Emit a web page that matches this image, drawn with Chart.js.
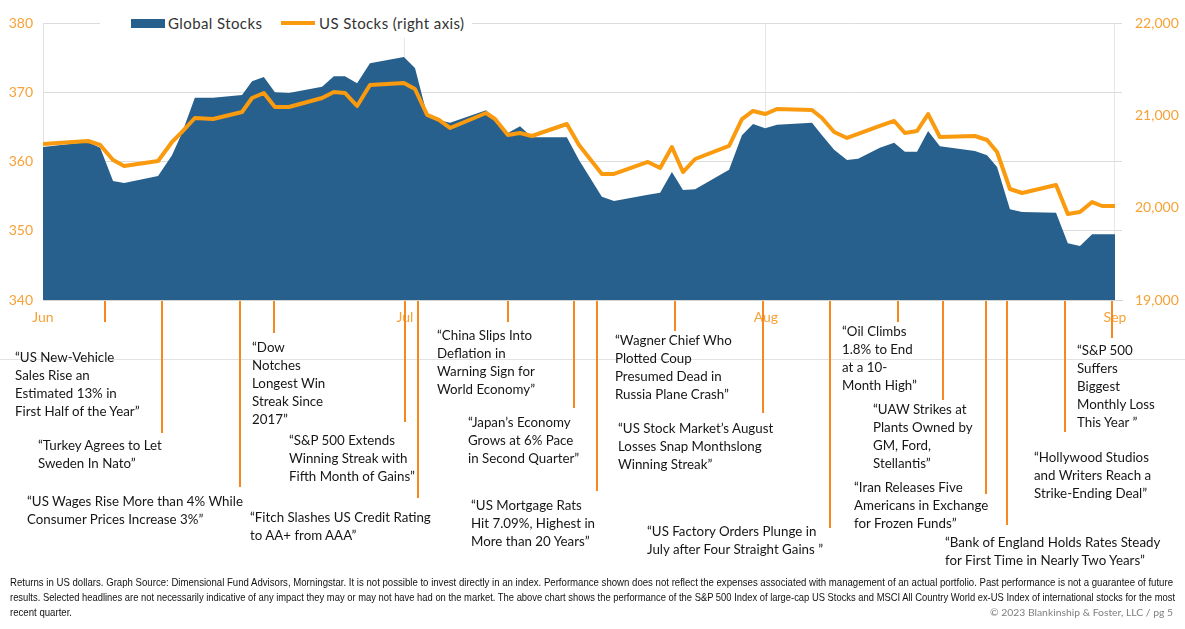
<!DOCTYPE html>
<html><head><meta charset="utf-8">
<script src="https://cdn.jsdelivr.net/npm/chart.js@4.4.0/dist/chart.umd.min.js"></script>
<style>
html,body{margin:0;padding:0;background:#fff;}
#page{position:relative;width:1185px;height:629px;overflow:hidden;background:#fff;}
#c{position:absolute;left:0;top:0;}
.rule{position:absolute;left:0;top:359px;width:1185px;height:1px;background:#e2e2e2;}
.hl{position:absolute;font-family:Lato,'Open Sans',sans-serif;font-size:14px;line-height:18px;color:#161616;white-space:nowrap;}
#legend{position:absolute;left:100px;top:8px;width:372px;height:30px;background:#fff;font-family:Lato,'Open Sans',sans-serif;font-size:15px;color:#333;}
#legend .sw1{position:absolute;left:31px;top:11px;width:34px;height:9px;background:#27608C;}
#legend .sw2{position:absolute;left:181px;top:13px;width:34px;height:4px;background:#FA9A0E;}
#legend .t{position:absolute;top:5px;line-height:20px;white-space:nowrap;letter-spacing:0.4px;}
.fn{position:absolute;left:10px;font-family:'Liberation Sans Narrow','Liberation Sans',Arial,sans-serif;font-size:10.5px;line-height:14px;color:#111;white-space:nowrap;transform-origin:0 50%;}
#copy{position:absolute;right:12px;top:604px;font-family:Lato,'Open Sans',sans-serif;font-size:12px;line-height:16px;color:#7f7f7f;white-space:nowrap;}
</style></head>
<body>
<div id="page">
  <div class="rule"></div>
  <canvas id="c" width="1185" height="629"></canvas>
  <div id="legend">
    <div class="sw1"></div><div class="t" style="left:68px">Global Stocks</div>
    <div class="sw2"></div><div class="t" style="left:219px">US Stocks (right axis)</div>
  </div>
  <div id="heads"></div>
  <div class="fn" id="fn1" style="top:575px">Returns in US dollars. Graph Source: Dimensional Fund Advisors, Morningstar. It is not possible to invest directly in an index. Performance shown does not reflect the expenses associated with management of an actual portfolio. Past performance is not a guarantee of future</div>
  <div class="fn" id="fn2" style="top:590px">results. Selected headlines are not necessarily indicative of any impact they may or may not have had on the market. The above chart shows the performance of the S&amp;P 500 Index of large-cap US Stocks and MSCI All Country World ex-US Index of international stocks for the most</div>
  <div class="fn" id="fn3" style="top:605px">recent quarter.</div>
  <div id="copy">© 2023 Blankinship &amp; Foster, LLC / pg 5</div>
</div>
<script>
// ---------- DATA ----------
const months = ['Jun', 'Jul', 'Aug', 'Sep'];
const monthTicks = [0, 1.013, 2.023, 3];          // month positions (months since Jun 1)
const dates = [0.000,0.126,0.160,0.196,0.227,0.322,0.361,0.389,0.425,0.476,0.557,0.585,0.618,0.649,0.688,0.781,0.814,0.845,0.879,0.915,
  1.010,1.041,1.075,1.108,1.139,1.240,1.265,1.301,1.335,1.368,1.466,1.500,1.564,1.598,1.693,1.727,1.760,1.791,1.825,1.920,1.956,1.987,
  2.021,2.054,2.152,2.180,2.214,2.250,2.281,2.342,2.382,2.412,2.446,2.477,2.510,2.608,2.642,2.670,2.706,2.740,2.835,2.868,2.902,2.936,2.964,3.000];
const globalStocks = [362.1,362.8,362.0,357.2,356.9,357.9,360.9,364.1,369.2,369.2,369.6,371.6,372.2,370.0,369.9,370.8,372.3,372.3,371.3,374.2,
  375.1,373.5,366.7,366.0,365.6,367.4,366.0,364.1,365.1,363.5,363.5,360.2,354.9,354.3,355.2,355.5,358.5,355.9,356.0,358.8,363.8,365.4,
  364.8,365.3,365.6,363.8,361.7,360.2,360.4,362.0,362.7,361.4,361.4,364.4,362.2,361.5,360.9,359.2,353.1,352.7,352.6,348.2,347.8,349.5,349.5,349.5];
const usStocks = [20690,20722,20679,20516,20451,20505,20711,20820,20971,20960,21036,21188,21242,21090,21090,21188,21253,21242,21101,21329,
  21350,21285,21004,20950,20863,21025,20960,20787,20809,20776,20906,20679,20365,20365,20495,20430,20657,20386,20527,20668,20960,21047,
  21014,21069,21058,20971,20820,20755,20798,20885,20939,20809,20830,21014,20765,20776,20733,20603,20202,20159,20246,19931,19953,20061,20018,20018];
const eventDates = [0.174,0.333,0.551,0.646,1.013,1.049,1.301,1.486,1.550,1.769,2.015,2.202,2.393,2.519,2.639,2.698,2.860,2.992];
const headlines = [
  ['“US New-Vehicle','Sales Rise an','Estimated 13% in','First Half of the Year”'],
  ['“Turkey Agrees to Let','Sweden In Nato”'],
  ['“US Wages Rise More than 4% While','Consumer Prices Increase 3%”'],
  ['“Dow','Notches','Longest Win','Streak Since','2017”'],
  ['“S&P 500 Extends','Winning Streak with','Fifth Month of Gains”'],
  ['“Fitch Slashes US Credit Rating','to AA+ from AAA”'],
  ['“China Slips Into','Deflation in','Warning Sign for','World Economy”'],
  ['“Japan’s Economy','Grows at 6% Pace','in Second Quarter”'],
  ['“US Mortgage Rats','Hit 7.09%, Highest in','More than 20 Years”'],
  ['“Wagner Chief Who','Plotted Coup','Presumed Dead in','Russia Plane Crash”'],
  ['“US Stock Market’s August','Losses Snap Monthslong','Winning Streak”'],
  ['“US Factory Orders Plunge in','July after Four Straight Gains ”'],
  ['“Oil Climbs','1.8% to End','at a 10-','Month High”'],
  ['“UAW Strikes at','Plants Owned by','GM, Ford,','Stellantis”'],
  ['“Iran Releases Five','Americans in Exchange','for Frozen Funds”'],
  ['“Bank of England Holds Rates Steady','for First Time in Nearly Two Years”'],
  ['“Hollywood Studios','and Writers Reach a','Strike-Ending Deal”'],
  ['“S&P 500','Suffers','Biggest','Monthly Loss','This Year ”']
];

// ---------- LAYOUT (pixels) ----------
const headLayout = [ // [text left, first line centre y, connector end y]
  [15,357,322],[38,445,433],[27,501,487],[252,347,333],[289,440,422],[250,517,498],
  [437,335,322],[468,422,408],[471,505,491],[615,340,331],[618,428,413],[647,531,528],
  [842,331,322],[873,409,400],[854,487,494],[945,542,525],[1034,457,432],[1077,350,338]
];

// headline font sized so that a known line matches the reference width
const probe = document.createElement('span');
probe.className = 'hl'; probe.style.position='absolute'; probe.style.visibility='hidden';
probe.textContent = headlines[2][0];
document.body.appendChild(probe);
const hlSize = 14 * 216 / probe.getBoundingClientRect().width;
probe.remove();

const heads = document.getElementById('heads');
headlines.forEach((lines, i) => {
  const d = document.createElement('div');
  d.className = 'hl';
  d.style.fontSize = hlSize.toFixed(2) + 'px';
  d.style.left = headLayout[i][0] + 'px';
  d.style.top = (headLayout[i][1] - 9) + 'px';
  lines.forEach((t, j) => { if (j) d.appendChild(document.createElement('br')); d.appendChild(document.createTextNode(t)); });
  heads.appendChild(d);
});

// footnote lines stretched to reference width
[['fn1',1163],['fn2',1165]].forEach(([id,w]) => {
  const el = document.getElementById(id);
  el.style.transform = 'scaleX(' + (w / el.getBoundingClientRect().width) + ')';
});
document.getElementById('fn3').style.transform = document.getElementById('fn1').style.transform;
(function(){ const el=document.getElementById('copy'); el.style.fontSize = (12*183/el.getBoundingClientRect().width).toFixed(2)+'px'; })();

const ORANGE = '#FA9A0E', BLUE = '#27608C', TICK = '#F7A136', EVENT = '#F5891F';

const eventLines = {
  id: 'eventLines',
  afterDraw(chart) {
    const { ctx, chartArea, scales: { x } } = chart;
    ctx.save();
    ctx.strokeStyle = EVENT; ctx.lineWidth = 2;
    eventDates.forEach((d, i) => {
      const px = Math.round(x.getPixelForValue(d));
      ctx.beginPath();
      ctx.moveTo(px, chartArea.bottom + 1);
      ctx.lineTo(px, headLayout[i][2]);
      ctx.stroke();
    });
    ctx.restore();
  }
};

const tickFont = { family: 'Lato, "Open Sans", sans-serif', size: 14 };

new Chart(document.getElementById('c'), {
  type: 'line',
  data: {
    datasets: [
      { label: 'US Stocks (right axis)', yAxisID: 'yR', order: 0,
        data: dates.map((d, i) => ({ x: d, y: usStocks[i] })),
        borderColor: ORANGE, borderWidth: 4, pointRadius: 0, tension: 0, fill: false,
        borderJoinStyle: 'round', borderCapStyle: 'butt' },
      { label: 'Global Stocks', yAxisID: 'yL', order: 1,
        data: dates.map((d, i) => ({ x: d, y: globalStocks[i] })),
        borderColor: BLUE, borderWidth: 0, backgroundColor: BLUE, pointRadius: 0, tension: 0, fill: 'start' }
    ]
  },
  options: {
    responsive: false, animation: false, devicePixelRatio: 1,
    layout: { padding: { left: 0, right: 0, top: 23, bottom: 299 } },
    plugins: { legend: { display: false }, tooltip: { enabled: false } },
    scales: {
      x: {
        type: 'linear', min: 0, max: 3.0196,
        afterBuildTicks: s => { s.ticks = monthTicks.map(v => ({ value: v })); },
        afterFit: s => { s.height = 30; },
        ticks: { autoSkip: false, maxRotation: 0, padding: 9, color: TICK, font: tickFont,
                 callback: (v, i) => months[i] },
        grid: { color: '#e6e6e6', drawTicks: false },
        border: { color: '#d4d4d4' }
      },
      yL: {
        position: 'left', min: 340, max: 380,
        afterFit: s => { s.width = 43; },
        ticks: { stepSize: 10, padding: 10, color: TICK, font: tickFont },
        grid: { color: '#dcdcdc', drawTicks: false },
        border: { display: true, color: '#e0e0e0' }
      },
      yR: {
        position: 'right', min: 19000, max: 22000,
        afterFit: s => { s.width = 63; },
        ticks: { stepSize: 1000, padding: 13, color: TICK, font: tickFont,
                 callback: v => v.toLocaleString('en-US') },
        grid: { display: false, drawTicks: false },
        border: { display: false }
      }
    }
  },
  plugins: [eventLines]
});
</script>
</body></html>
